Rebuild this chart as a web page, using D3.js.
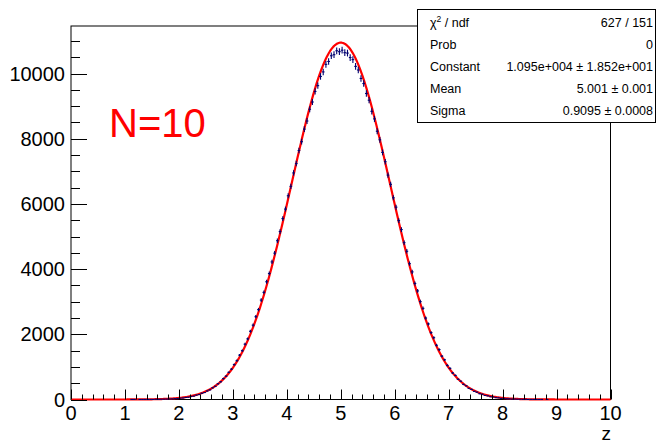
<!DOCTYPE html>
<html>
<head>
<meta charset="utf-8">
<script src="https://cdn.jsdelivr.net/npm/d3@7"></script>
<style>
  html, body { margin: 0; padding: 0; background: #fff; }
  svg { display: block; }
  text { font-family: "Liberation Sans", Arial, Helvetica, sans-serif; }
</style>
</head>
<body>
<svg id="chart" width="660" height="442"></svg>
<script>
// ---------------- data ----------------
const binLow = 0;
const binWidth = 0.05;
// histogram counts for 200 bins from 0 to 10
const zerosLow = [0,0,0,0,0,0,0,0,0,0,0,0,0,0,0,0,0,0,0,0,0,0];
const countsLeft = [1,1,0,1,1,2,1,3,2,5,6,8,10,13,16,18,27,29,41,46,62,71,92,104,134,151,190,214,262,297,358,405,482,544,640,716,834,932,1071,1190,1361,1498,1697,1860,2093,2281,2541,2758,3050,3287,3612,3866,4221,4490,4871,5152,5550,5842,6251,6540,6952,7238,7640,7910,8296,8545,8906,9128,9452,9630,9912,10051,10283,10372,10547,10580,10700,10672];
const countsRight = [10718,10641,10629,10492,10428,10221,10110,9851,9695,9389,9183,8842,8610,8231,7968,7580,7297,6885,6602,6189,5901,5489,5213,4812,4548,4168,3915,3561,3331,3004,2797,2499,2318,2052,1896,1664,1531,1329,1218,1046,955,812,739,621,561,465,420,344,309,251,224,177,161,124,113,84,79,56,51,35,33,22,21,13,14,8,9,4,5,2,3,1,2,1,1,0,1,0];
const zerosHigh = [0,0,0,0,0,0,0,0,0,0,0,0,0,0,0,0,0,0,0,0,0,0];
const counts = zerosLow.concat(countsLeft, countsRight, zerosHigh);

// fit parameters (gaus)
const fitConstant = 10950;
const fitMean = 5.001;
const fitSigma = 0.9095;

const xTicks = [0,1,2,3,4,5,6,7,8,9,10];
const yTicks = [0,2000,4000,6000,8000,10000];
const xDomain = [0, 10];
const yDomain = [0, 11460];

const statsLabels = ["χ² / ndf", "Prob", "Constant", "Mean", "Sigma"];
const statsValues = ["627 / 151", "0", "1.095e+004 ± 1.852e+001", "5.001 ± 0.001", "0.9095 ± 0.0008"];
const annotation = "N=10";
const xTitle = "z";

// ---------------- layout ----------------
const svg = d3.select("#chart");
const L = 71, R = 610.5, T = 26, B = 399.5;

const x = d3.scaleLinear().domain(xDomain).range([L, R]);
const y = d3.scaleLinear().domain(yDomain).range([B, T]);

// frame
svg.append("rect")
  .attr("x", L).attr("y", T)
  .attr("width", R - L).attr("height", B - T)
  .attr("fill", "none").attr("stroke", "#000").attr("stroke-width", 1);

// fit curve
const fitX = d3.range(0, 10.0001, 0.02);
const gaus = v => fitConstant * Math.exp(-0.5 * Math.pow((v - fitMean) / fitSigma, 2));
svg.append("path")
  .datum(fitX)
  .attr("fill", "none")
  .attr("stroke", "#ff0000")
  .attr("stroke-width", 2.2)
  .attr("stroke-linejoin", "round")
  .attr("d", d3.line().x(d => x(d)).y(d => y(gaus(d))));

// histogram error crosses (on top)
const histColor = "#000070";
const hist = svg.append("g").attr("stroke", histColor).attr("stroke-width", 1.1);
counts.forEach((c, i) => {
  if (c <= 0) return;
  const x0 = binLow + i * binWidth;
  const xc = x0 + binWidth / 2;
  const err = Math.sqrt(c);
  hist.append("line")
    .attr("x1", x(x0)).attr("x2", x(x0 + binWidth))
    .attr("y1", y(c)).attr("y2", y(c));
  hist.append("line")
    .attr("x1", x(xc)).attr("x2", x(xc))
    .attr("y1", y(Math.max(0, c - err))).attr("y2", y(c + err));
});

// x axis ticks
const xAxisG = svg.append("g").attr("stroke", "#000").attr("stroke-width", 1);
const xMinor = d3.range(0, 10.0001, 0.2);
xMinor.forEach(v => {
  const isMajor = Math.abs(v - Math.round(v)) < 1e-6;
  const len = isMajor ? 10 : 5;
  xAxisG.append("line")
    .attr("x1", Math.round(x(v)) + 0.5).attr("x2", Math.round(x(v)) + 0.5)
    .attr("y1", B).attr("y2", B - len);
});
svg.append("g").selectAll("text").data(xTicks).join("text")
  .attr("x", d => x(d)).attr("y", 420)
  .attr("text-anchor", "middle")
  .attr("font-size", 20)
  .attr("fill", "#000")
  .text(d => d);

// y axis ticks
const yAxisG = svg.append("g").attr("stroke", "#000").attr("stroke-width", 1);
const yMinor = d3.range(0, 11460, 500);
yMinor.forEach(v => {
  const isMajor = v % 2000 === 0;
  const len = isMajor ? 16 : 9;
  yAxisG.append("line")
    .attr("x1", L).attr("x2", L + len)
    .attr("y1", Math.round(y(v)) + 0.5).attr("y2", Math.round(y(v)) + 0.5);
});
svg.append("g").selectAll("text").data(yTicks).join("text")
  .attr("x", 65).attr("y", d => y(d) + 7)
  .attr("text-anchor", "end")
  .attr("font-size", 20)
  .attr("fill", "#000")
  .text(d => d);

// x title
svg.append("text")
  .attr("x", 611).attr("y", 439.5)
  .attr("text-anchor", "end")
  .attr("font-size", 19)
  .attr("fill", "#000")
  .text(xTitle);

// annotation
svg.append("text")
  .attr("x", 109).attr("y", 136.5)
  .attr("font-size", 40)
  .attr("fill", "#ff0000")
  .text(annotation);

// stats box
const sb = { x: 417.5, y: 9.5, w: 238, h: 113 };
svg.append("rect")
  .attr("x", sb.x).attr("y", sb.y)
  .attr("width", sb.w).attr("height", sb.h)
  .attr("fill", "#fff").attr("stroke", "#000").attr("stroke-width", 1);
const rowY = i => 26.5 + 22 * i;
statsLabels.forEach((lab, i) => {
  const t = svg.append("text")
    .attr("x", 430).attr("y", rowY(i))
    .attr("font-size", 12.5).attr("fill", "#000");
  if (i === 0) {
    t.append("tspan").text("χ");
    t.append("tspan").attr("font-size", 8.5).attr("dy", -5).text("2");
    t.append("tspan").attr("dy", 5).text(" / ndf");
  } else {
    t.text(lab);
  }
});
statsValues.forEach((val, i) => {
  svg.append("text")
    .attr("x", 653).attr("y", rowY(i))
    .attr("text-anchor", "end")
    .attr("font-size", 12.5).attr("fill", "#000")
    .text(val);
});
</script>
</body>
</html>
